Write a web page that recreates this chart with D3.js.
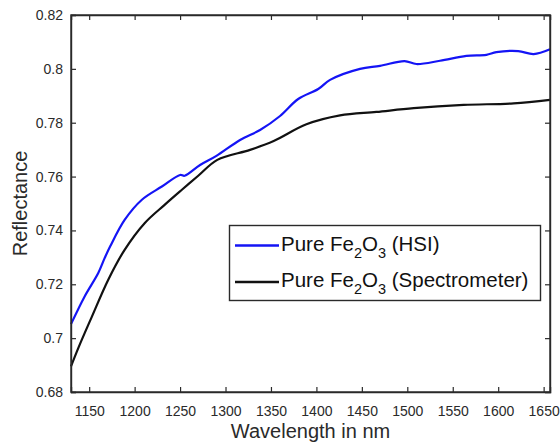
<!DOCTYPE html>
<html>
<head>
<meta charset="utf-8">
<script src="https://cdn.jsdelivr.net/npm/d3@7"></script>
<style>
  body { margin: 0; background: #fff; }
  svg { font-family: "Liberation Sans", Arial, sans-serif; }
</style>
</head>
<body>
<div id="chart"></div>
<script>
// wavelength (nm) and reflectance
const hsiNm = [1130, 1145, 1160, 1167, 1173, 1189, 1208, 1230, 1250, 1255, 1272, 1290, 1316, 1338, 1360, 1380, 1402, 1415, 1448, 1470, 1497, 1510, 1536, 1565, 1587, 1598, 1622, 1639, 1657];
const hsiVal = [0.7052, 0.7155, 0.7242, 0.7297, 0.734, 0.7439, 0.7514, 0.7563, 0.7606, 0.7603, 0.7643, 0.7677, 0.7736, 0.7773, 0.7825, 0.7888, 0.7925, 0.7959, 0.80, 0.8011, 0.8029, 0.8018, 0.803, 0.8048, 0.8052, 0.8062, 0.8066, 0.8055, 0.8073];

const specNm = [1130, 1138, 1153, 1171, 1189, 1211, 1233, 1252, 1270, 1291, 1327, 1353, 1389, 1426, 1466, 1507, 1562, 1617, 1657];
const specVal = [0.6895, 0.6963, 0.708, 0.7217, 0.7328, 0.7427, 0.7495, 0.7551, 0.7603, 0.7662, 0.7699, 0.7732, 0.7794, 0.7827, 0.7840, 0.7854, 0.7866, 0.7872, 0.7885];

const xTicks = [1150, 1200, 1250, 1300, 1350, 1400, 1450, 1500, 1550, 1600, 1650];
const yTicks = [0.68, 0.7, 0.72, 0.74, 0.76, 0.78, 0.8, 0.82];

const series = [
  { name: 'HSI', nm: hsiNm, val: hsiVal, color: '#1414f5' },
  { name: 'Spectrometer', nm: specNm, val: specVal, color: '#111111' }
];

const W = 560, H = 445;
const m = { left: 71, right: 10, top: 15, bottom: 53 };
const axisCol = '#2a2a2a';

const svg = d3.select('#chart').append('svg')
  .attr('width', W)
  .attr('height', H);

const x = d3.scaleLinear().domain([1130, 1657]).range([m.left, W - m.right]);
const y = d3.scaleLinear().domain([0.68, 0.82]).range([H - m.bottom, m.top]);

// curves
const line = d3.line()
  .x(d => x(d[0]))
  .y(d => y(d[1]))
  .curve(d3.curveCatmullRom.alpha(0.5));

svg.append('g').selectAll('path')
  .data(series)
  .join('path')
    .attr('fill', 'none')
    .attr('stroke', d => d.color)
    .attr('stroke-width', 2.2)
    .attr('d', d => line(d.nm.map((n, i) => [n, d.val[i]])));

// axes: bottom/left with labels, top/right ticks only
const tickIn = -5;
const gx = svg.append('g')
  .attr('transform', `translate(0,${H - m.bottom})`)
  .call(d3.axisBottom(x).tickValues(xTicks).tickSize(tickIn).tickPadding(14).tickFormat(d3.format('d')));
const gy = svg.append('g')
  .attr('transform', `translate(${m.left},0)`)
  .call(d3.axisLeft(y).tickValues(yTicks).tickSize(tickIn).tickPadding(8).tickFormat(d => String(+d.toFixed(2))));
const gt = svg.append('g')
  .attr('transform', `translate(0,${m.top})`)
  .call(d3.axisTop(x).tickValues(xTicks).tickSize(tickIn).tickFormat(''));
const gr = svg.append('g')
  .attr('transform', `translate(${W - m.right},0)`)
  .call(d3.axisRight(y).tickValues(yTicks).tickSize(tickIn).tickFormat(''));

[gx, gy, gt, gr].forEach(g => {
  g.select('.domain').attr('stroke', axisCol).attr('stroke-width', 1.4);
  g.selectAll('.tick line').attr('stroke', axisCol).attr('stroke-width', 1.2);
  g.selectAll('.tick text').attr('fill', axisCol).style('font-size', '14px');
});
// close the box corners cleanly
svg.append('rect')
  .attr('x', m.left).attr('y', m.top)
  .attr('width', W - m.right - m.left).attr('height', H - m.bottom - m.top)
  .attr('fill', 'none').attr('stroke', axisCol).attr('stroke-width', 1.4);

// axis titles
svg.append('text')
  .attr('x', (m.left + W - m.right) / 2)
  .attr('y', 438)
  .attr('text-anchor', 'middle')
  .attr('fill', axisCol)
  .style('font-size', '20px')
  .text('Wavelength in nm');

svg.append('text')
  .attr('transform', `translate(27,${(m.top + H - m.bottom) / 2}) rotate(-90)`)
  .attr('text-anchor', 'middle')
  .attr('fill', axisCol)
  .style('font-size', '20px')
  .text('Reflectance');

// legend
const lg = svg.append('g');
lg.append('rect')
  .attr('x', 229.5).attr('y', 225.5)
  .attr('width', 311).attr('height', 75)
  .attr('fill', '#fff')
  .attr('stroke', axisCol).attr('stroke-width', 1.4);

series.forEach((s, i) => {
  const ly = 245.5 + i * 36.5;
  lg.append('line')
    .attr('x1', 235).attr('x2', 279)
    .attr('y1', ly).attr('y2', ly)
    .attr('stroke', s.color).attr('stroke-width', 2.4);
  const t = lg.append('text')
    .attr('x', 281).attr('y', ly + 5)
    .attr('fill', '#111')
    .style('font-size', '20.5px');
  t.append('tspan').text('Pure Fe');
  t.append('tspan').attr('dy', 7).style('font-size', '14.5px').text('2');
  t.append('tspan').attr('dy', -7).text('O');
  t.append('tspan').attr('dy', 7).style('font-size', '14.5px').text('3');
  t.append('tspan').attr('dy', -7).text(` (${s.name})`);
});
</script>
</body>
</html>
